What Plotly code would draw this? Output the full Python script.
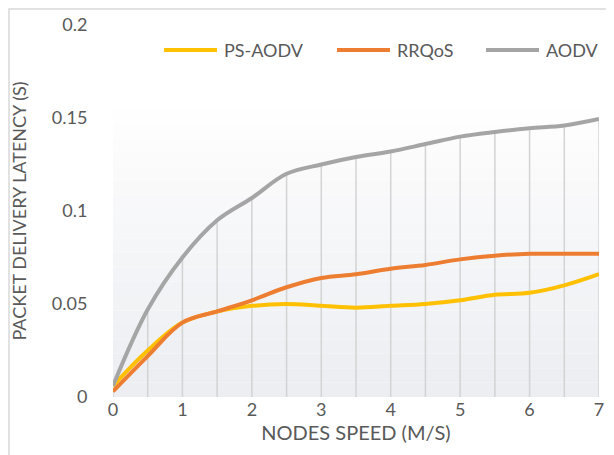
import plotly.graph_objects as go

speed = [0, 0.5, 1, 1.5, 2, 2.5, 3, 3.5, 4, 4.5, 5, 5.5, 6, 6.5, 7]
ps_aodv = [0.006, 0.025, 0.040, 0.046, 0.049, 0.050, 0.049, 0.048, 0.049, 0.050, 0.052, 0.055, 0.056, 0.060, 0.066]
rrqos = [0.003, 0.022, 0.040, 0.046, 0.052, 0.059, 0.064, 0.066, 0.069, 0.071, 0.074, 0.076, 0.077, 0.077, 0.077]
aodv = [0.006, 0.047, 0.075, 0.095, 0.107, 0.120, 0.125, 0.129, 0.132, 0.136, 0.140, 0.1425, 0.1445, 0.146, 0.1495]
series_names = ["PS-AODV", "RRQoS", "AODV"]
series_colors = ["#FFC000", "#ED7D31", "#A5A5A5"]
y_ticks = [0, 0.05, 0.1, 0.15, 0.2]
y_tick_labels = ["0", "0.05", "0.1", "0.15", "0.2"]
x_ticks = [0, 1, 2, 3, 4, 5, 6, 7]

FONT = "Lato, 'Open Sans', sans-serif"
TXT = "#595959"

L, R, T, B = 105, 23, 17, 66
W, H = 614, 455
PW, PH = W - L - R, H - T - B


def px_x(p):
    return (p - L) / PW


def px_y(p):
    return (H - B - p) / PH


fig = go.Figure()

# drop lines from AODV curve to axis
dx, dy = [], []
for xv, yv in zip(speed, aodv):
    dx += [xv, xv, None]
    dy += [0, yv, None]
fig.add_trace(go.Scatter(x=dx, y=dy, mode="lines", line=dict(color="#D3D3D3", width=1.5),
                         showlegend=False, hoverinfo="skip"))

for name, color, vals in zip(series_names, series_colors, [ps_aodv, rrqos, aodv]):
    fig.add_trace(go.Scatter(x=speed, y=vals, name=name, mode="lines", showlegend=False,
                             line=dict(color=color, width=4, shape="spline")))

# gradient plot background (white at top -> light grey at bottom)
shapes = []
n = 20
top = 0.155
for i in range(n):
    y0 = top * i / n
    y1 = top * (i + 1) / n
    t = i / (n - 1)
    r = int(236 + (254 - 236) * t)
    g = int(238 + (254 - 238) * t)
    b = int(242 + (254 - 242) * t)
    shapes.append(dict(type="rect", xref="x", yref="y", x0=0, x1=7, y0=y0, y1=y1,
                       fillcolor=f"rgb({r},{g},{b})", line=dict(width=0), layer="below"))
# outer chart border
shapes.append(dict(type="rect", xref="paper", yref="paper",
                   x0=px_x(1), x1=px_x(640), y0=px_y(480), y1=px_y(1),
                   line=dict(color="#D9D9D9", width=1.5), fillcolor="rgba(0,0,0,0)", layer="below"))

# legend (line sample + label) drawn at the top of the chart
annotations = []
leg_line_x = [156, 329, 478]
leg_y = 42
for name, color, lx in zip(series_names, series_colors, leg_line_x):
    shapes.append(dict(type="line", xref="paper", yref="paper",
                       x0=px_x(lx), x1=px_x(lx + 53), y0=px_y(leg_y), y1=px_y(leg_y),
                       line=dict(color=color, width=4)))
    annotations.append(dict(xref="paper", yref="paper", x=px_x(lx + 58), y=px_y(leg_y),
                            xanchor="left", yanchor="middle", showarrow=False, text=name,
                            font=dict(size=18, color=TXT, family=FONT)))

fig.update_layout(
    width=W, height=H,
    margin=dict(l=L, r=R, t=T, b=B),
    paper_bgcolor="white", plot_bgcolor="white",
    font=dict(family=FONT, color=TXT, size=17),
    shapes=shapes,
    annotations=annotations,
    showlegend=False,
    xaxis=dict(range=[0, 7], tickvals=x_ticks, showgrid=False, zeroline=False, automargin=False,
               showline=False, ticks="", tickfont=dict(size=18, color=TXT),
               title=dict(text="NODES SPEED (M/S)", font=dict(size=20, color=TXT), standoff=6)),
    yaxis=dict(range=[0, 0.2], tickvals=y_ticks, ticktext=y_tick_labels, showgrid=False,
               zeroline=False, showline=False, ticks="outside", ticklen=21, automargin=False,
               tickcolor="rgba(0,0,0,0)", tickfont=dict(size=18, color=TXT),
               title=dict(text="PACKET DELIVERY LATENCY (S)", font=dict(size=18, color=TXT), standoff=30)),
)

fig.write_html("out.html")
